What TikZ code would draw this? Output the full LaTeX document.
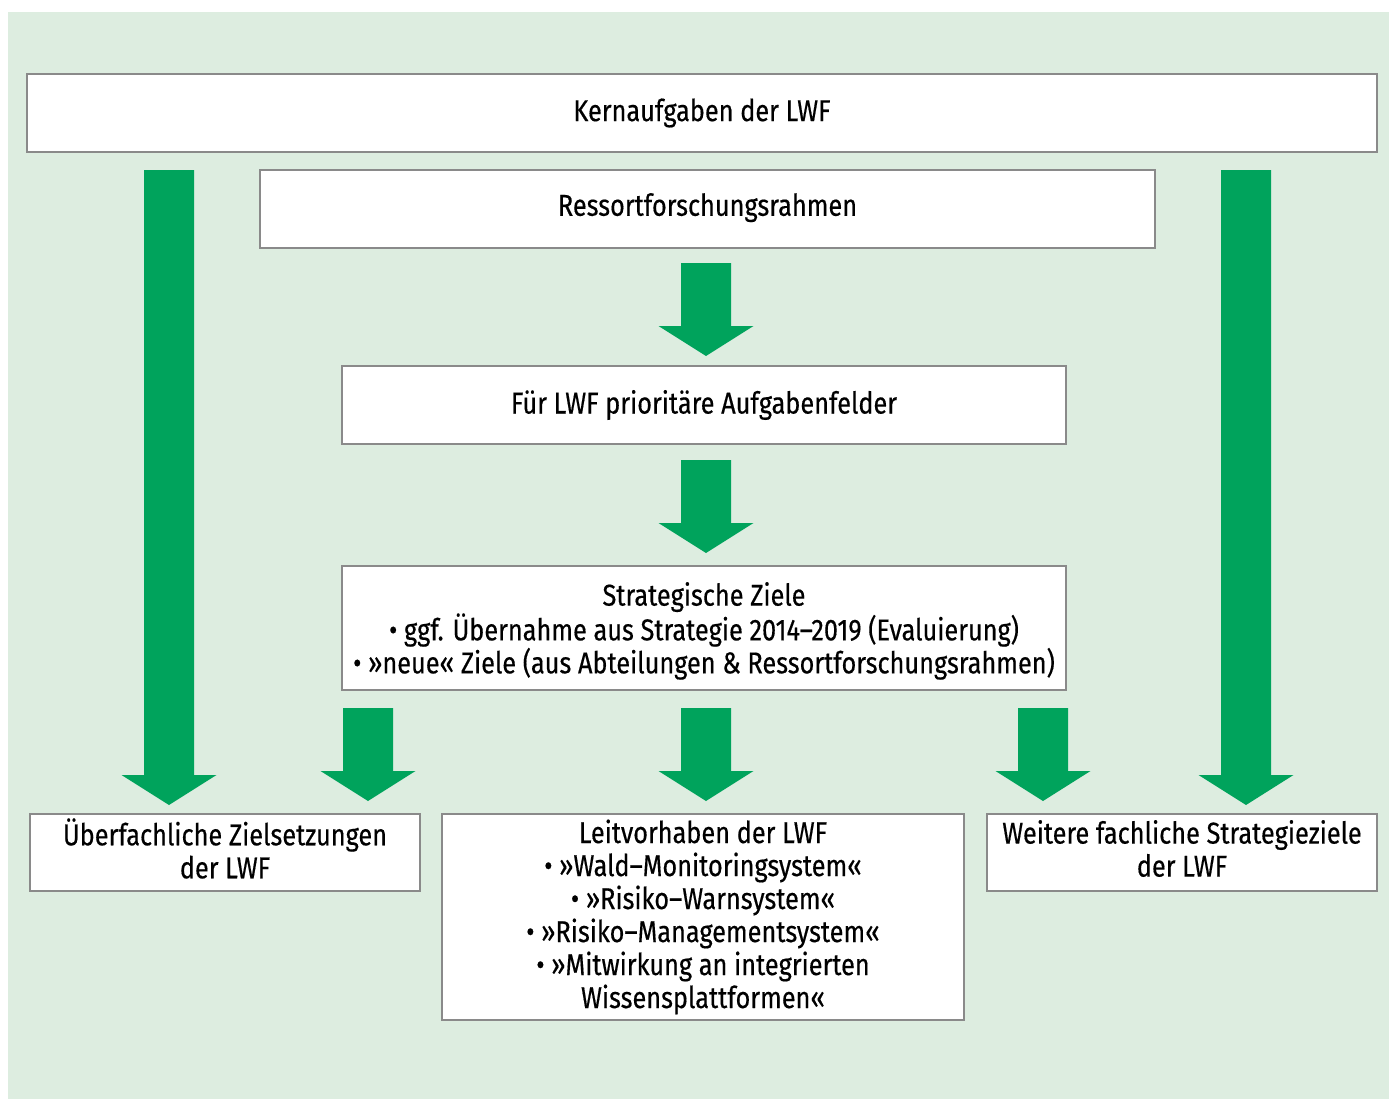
\documentclass[tikz,border=0pt]{standalone}
\usepackage{fontspec}
\setmainfont[FakeStretch=0.84,FakeBold=0.4]{Fira Sans}
\usetikzlibrary{calc}
\definecolor{bgg}{RGB}{221,237,224}
\definecolor{arrg}{RGB}{0,163,92}
\definecolor{bordg}{RGB}{138,138,138}
\newcommand\blockarrow[2]{%
  \fill[arrg] ($(#1)+(-25,0)$) -- ($(#2)+(-25,-30)$) -- ($(#2)+(-47.5,-30)$) -- (#2)
    -- ($(#2)+(47.5,-30)$) -- ($(#2)+(25,-30)$) -- ($(#1)+(25,0)$) -- cycle;}
\begin{document}
\begin{tikzpicture}[x=0.75pt,y=-0.75pt,
  box/.style={draw=bordg, line width=1.1pt, fill=white, inner sep=0pt},
  txt/.style={align=center, inner sep=0pt, font=\fontsize{22.6}{24.75}\selectfont},
]
\useasboundingbox (0,0) rectangle (1389,1099);
\fill[bgg] (8,12) rectangle (1389,1099);

\node[box, minimum width=1012.5pt, minimum height=58.5pt] (kern) at (702,113) {};
\node[txt] (kernt) at (kern.center) {Kernaufgaben der LWF};
\node[box, minimum width=671.25pt, minimum height=58.5pt] (ress) at (707.5,209) {};
\node[txt, yshift=1pt] (resst) at (ress.center) {Ressortforschungsrahmen};
\node[box, minimum width=543pt, minimum height=58.5pt] (fuer) at (704,405) {};
\node[txt] (fuert) at (fuer.center) {Für LWF prioritäre Aufgabenfelder};
\node[box, minimum width=543pt, minimum height=93pt] (strat) at (704,628) {};
\node[txt, yshift=-2.2pt] (stratt) at (strat.center) {Strategische Ziele\\
  • ggf. Übernahme aus Strategie 2014–2019 (Evaluierung)\\
  • »neue« Ziele (aus Abteilungen \& Ressortforschungsrahmen)};
\node[box, minimum width=292.5pt, minimum height=57.75pt] (ueber) at (225,852.5) {};
\node[txt, yshift=3pt] (uebert) at (ueber.center) {Überfachliche Zielsetzungen\\der LWF};
\node[box, minimum width=391.5pt, minimum height=154.5pt] (leit) at (703,917) {};
\node[txt] (leitt) at (leit.center) {Leitvorhaben der LWF\\
  • »Wald–Monitoringsystem«\\
  • »Risiko–Warnsystem«\\
  • »Risiko–Managementsystem«\\
  • »Mitwirkung an integrierten\\
  Wissensplattformen«};
\node[box, minimum width=292.5pt, minimum height=57.75pt] (weit) at (1182,852.5) {};
\node[txt, yshift=3pt] (weitt) at (weit.center) {Weitere fachliche Strategieziele\\der LWF};

\coordinate (l0) at (169,170);   \coordinate (l1) at (169,805);
\coordinate (r0) at (1246,170);  \coordinate (r1) at (1246,805);
\coordinate (a0) at (706,263);   \coordinate (a1) at (706,356);
\coordinate (b0) at (706,460);   \coordinate (b1) at (706,553);
\coordinate (c0) at (368,708);   \coordinate (c1) at (368,801);
\coordinate (d0) at (706,708);   \coordinate (d1) at (706,801);
\coordinate (e0) at (1043,708);  \coordinate (e1) at (1043,801);

\blockarrow{l0}{l1}
\blockarrow{r0}{r1}
\blockarrow{a0}{a1}
\blockarrow{b0}{b1}
\blockarrow{c0}{c1}
\blockarrow{d0}{d1}
\blockarrow{e0}{e1}
\end{tikzpicture}
\end{document}
